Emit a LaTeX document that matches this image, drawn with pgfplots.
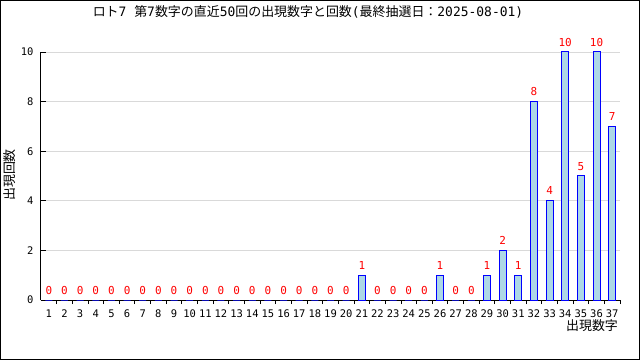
\documentclass[border=0pt]{standalone}
\usepackage{fontspec}
\setmainfont{DejaVu Sans Mono}
\newfontfamily\cjk{Noto Sans CJK JP}
\usepackage{pgfplots}
\pgfplotsset{compat=1.18}
\definecolor{barfill}{HTML}{ADD8E6}
\begin{document}
\begin{tikzpicture}
\useasboundingbox (0,0) rectangle (640bp,360bp);
\fill[white] (0,0) rectangle (640bp,360bp);
\draw[line width=1bp] (0.5bp,0.5bp) rectangle (639.5bp,359.5bp);
\begin{axis}[
  at={(41bp,60bp)}, anchor=south west,
  scale only axis, width=579bp, height=248bp,
  xmin=0.5, xmax=37.5, ymin=0, ymax=10,
  axis x line*=bottom, axis y line*=left,
  axis line style={line width=1bp, black},
  xtick={1,...,37},
  minor xtick={1.5,2.5,...,37.5},
  major x tick style={draw=none},
  minor tick length=4bp,
  major tick length=5bp,
  tick align=inside,
  tick style={line width=0.8bp, black},
  ytick={0,2,...,10},
  ymajorgrids,
  grid style={line width=0.8bp, black!15},
  /pgf/number format/assume math mode=true,
  ticklabel style={font=\fontsize{10.5}{11}\selectfont},
  xticklabel style={yshift=-1bp},
  yticklabel style={xshift=-4bp},
  ybar, bar width=7bp,
  clip=false,
  nodes near coords,
  every node near coord/.append style={red, font=\fontsize{11}{11}\selectfont, yshift=2bp},
]
\addplot[fill=barfill, draw=blue, line width=1bp] coordinates {
(1,0) (2,0) (3,0) (4,0) (5,0) (6,0) (7,0) (8,0) (9,0) (10,0)
(11,0) (12,0) (13,0) (14,0) (15,0) (16,0) (17,0) (18,0) (19,0) (20,0)
(21,1) (22,0) (23,0) (24,0) (25,0) (26,1) (27,0) (28,0) (29,1) (30,2)
(31,1) (32,8) (33,4) (34,10) (35,5) (36,10) (37,7)
};
\end{axis}
\node[font=\fontsize{13}{13}\selectfont, inner sep=0pt] at (308bp,348bp) {{\cjk ロト}7 {\cjk 第}7{\cjk 数字の直近}50{\cjk 回の出現数字と回数}({\cjk 最終抽選日：}2025-08-01)};
\node[font=\cjk\fontsize{13}{13}\selectfont, rotate=90] at (10bp,185bp) {出現回数};
\node[font=\cjk\fontsize{13}{13}\selectfont] at (592bp,34bp) {出現数字};
\end{tikzpicture}
\end{document}
